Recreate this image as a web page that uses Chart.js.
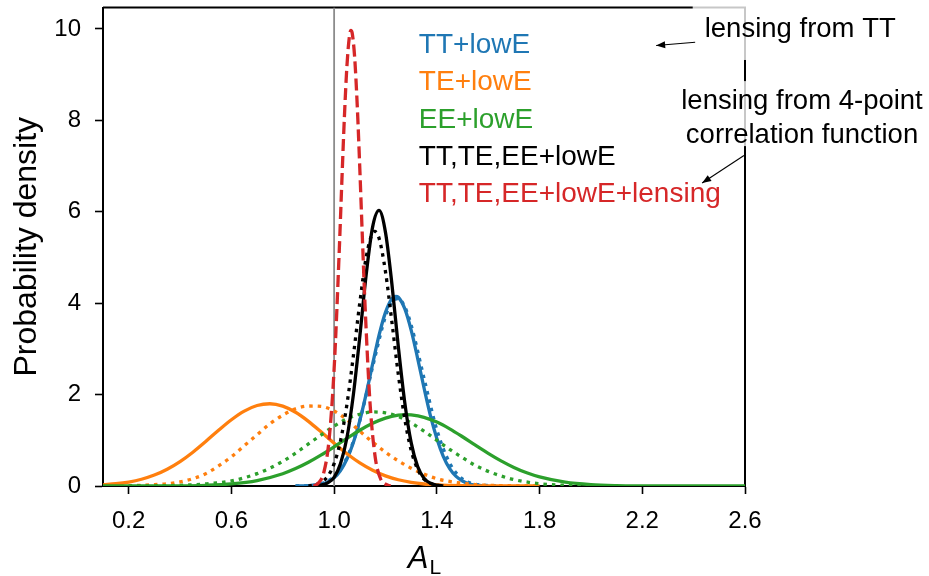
<!DOCTYPE html>
<html>
<head>
<meta charset="utf-8">
<script src="https://cdn.jsdelivr.net/npm/chart.js@4.4.0/dist/chart.umd.min.js"></script>
<style>
  html, body { margin: 0; padding: 0; background: #fff; }
</style>
</head>
<body>
<canvas id="myChart" width="929" height="576"></canvas>
<script>
const FONT = '"Liberation Sans", Arial, sans-serif';

// posterior densities of A_L
const redX = [0.92, 0.94, 0.96, 0.98, 1.00, 1.02, 1.03, 1.04, 1.05, 1.06, 1.065, 1.07, 1.08, 1.09, 1.10, 1.11, 1.12, 1.14, 1.16, 1.18, 1.20, 1.22];
const redY = [0.0, 0.07, 0.30, 0.99, 2.56, 5.15, 6.65, 8.07, 9.20, 9.86, 9.97, 9.92, 9.38, 8.33, 6.95, 5.44, 4.01, 1.80, 0.63, 0.17, 0.04, 0.0];

const blackX = [0.925, 0.95, 0.975, 1.0, 1.025, 1.05, 1.075, 1.1, 1.125, 1.15, 1.175, 1.2, 1.225, 1.25, 1.275, 1.3, 1.325, 1.35, 1.375, 1.4, 1.425];
const blackY = [0.0, 0.02, 0.07, 0.19, 0.49, 1.06, 2.00, 3.27, 4.63, 5.67, 6.03, 5.55, 4.42, 3.05, 1.83, 0.95, 0.43, 0.17, 0.06, 0.02, 0.0];

const blackDotX = [0.9, 0.925, 0.95, 0.975, 1.0, 1.025, 1.05, 1.075, 1.1, 1.125, 1.15, 1.158, 1.175, 1.2, 1.225, 1.25, 1.275, 1.3, 1.325, 1.35, 1.375, 1.4, 1.425];
const blackDotY = [0.0, 0.03, 0.08, 0.21, 0.49, 0.99, 1.79, 2.85, 4.01, 5.01, 5.54, 5.57, 5.42, 4.69, 3.59, 2.44, 1.47, 0.78, 0.37, 0.15, 0.06, 0.02, 0.0];

const blueX = [0.85, 0.9, 0.925, 0.95, 0.975, 1.0, 1.025, 1.05, 1.075, 1.1, 1.125, 1.15, 1.175, 1.2, 1.225, 1.24, 1.25, 1.275, 1.3, 1.325, 1.35, 1.375, 1.4, 1.425, 1.45, 1.475, 1.5, 1.525, 1.55, 1.575, 1.6];
const blueY = [0.0, 0.01, 0.02, 0.04, 0.09, 0.18, 0.34, 0.59, 0.95, 1.43, 2.02, 2.67, 3.30, 3.80, 4.10, 4.15, 4.13, 3.88, 3.41, 2.80, 2.15, 1.54, 1.04, 0.65, 0.38, 0.21, 0.11, 0.05, 0.02, 0.01, 0.0];

const blueDotX = [0.85, 0.9, 0.95, 1.0, 1.05, 1.1, 1.15, 1.2, 1.225, 1.25, 1.275, 1.3, 1.35, 1.4, 1.45, 1.5, 1.55, 1.6, 1.65];
const blueDotY = [0.0, 0.01, 0.05, 0.21, 0.62, 1.43, 2.61, 3.71, 4.02, 4.10, 3.92, 3.52, 2.36, 1.23, 0.50, 0.15, 0.04, 0.01, 0.0];

const orangeX = [0.1, 0.15, 0.2, 0.25, 0.3, 0.35, 0.4, 0.45, 0.5, 0.55, 0.6, 0.65, 0.7, 0.75, 0.8, 0.85, 0.9, 0.95, 1.0, 1.05, 1.1, 1.15, 1.2, 1.25, 1.3, 1.35, 1.4, 1.5, 1.6, 1.8];
const orangeY = [0.026, 0.049, 0.087, 0.148, 0.239, 0.367, 0.534, 0.740, 0.974, 1.219, 1.450, 1.639, 1.762, 1.800, 1.747, 1.613, 1.415, 1.180, 0.935, 0.705, 0.505, 0.344, 0.222, 0.137, 0.080, 0.044, 0.023, 0.006, 0.001, 0.0];

const orangeDotX = [0.1, 0.2, 0.25, 0.3, 0.35, 0.4, 0.45, 0.5, 0.55, 0.6, 0.65, 0.7, 0.75, 0.8, 0.85, 0.9, 0.95, 1.0, 1.05, 1.1, 1.15, 1.2, 1.25, 1.3, 1.35, 1.4, 1.45, 1.5, 1.55, 1.6, 1.7, 1.8];
const orangeDotY = [0.0, 0.007, 0.014, 0.03, 0.05, 0.09, 0.16, 0.27, 0.44, 0.64, 0.88, 1.12, 1.36, 1.55, 1.69, 1.75, 1.74, 1.64, 1.45, 1.20, 0.96, 0.74, 0.55, 0.39, 0.26, 0.16, 0.10, 0.06, 0.03, 0.015, 0.005, 0.0];

const greenX = [0.1, 0.4, 0.5, 0.6, 0.7, 0.8, 0.85, 0.9, 0.95, 1.0, 1.05, 1.1, 1.15, 1.2, 1.25, 1.28, 1.3, 1.35, 1.4, 1.45, 1.5, 1.55, 1.6, 1.65, 1.7, 1.75, 1.8, 1.9, 2.0, 2.1, 2.2, 2.3, 2.6];
const greenY = [0.0, 0.004, 0.015, 0.046, 0.12, 0.269, 0.381, 0.519, 0.680, 0.858, 1.042, 1.219, 1.371, 1.486, 1.549, 1.56, 1.555, 1.503, 1.398, 1.251, 1.078, 0.894, 0.714, 0.549, 0.406, 0.289, 0.198, 0.083, 0.030, 0.009, 0.002, 0.0, 0.0];

const greenDotX = [0.2, 0.3, 0.4, 0.5, 0.6, 0.65, 0.7, 0.75, 0.8, 0.85, 0.9, 0.95, 1.0, 1.05, 1.1, 1.15, 1.2, 1.25, 1.3, 1.35, 1.4, 1.45, 1.5, 1.55, 1.6, 1.65, 1.7, 1.8, 1.9, 2.0, 2.1];
const greenDotY = [0.0, 0.004, 0.015, 0.045, 0.11, 0.18, 0.27, 0.39, 0.54, 0.72, 0.92, 1.12, 1.31, 1.47, 1.57, 1.62, 1.60, 1.52, 1.38, 1.20, 1.00, 0.80, 0.62, 0.45, 0.32, 0.22, 0.14, 0.05, 0.016, 0.004, 0.0];

// A_L = 1 reference
const refX = [1.0, 1.0];
const refY = [0, 10.47];

const xTicks = [0.2, 0.6, 1.0, 1.4, 1.8, 2.2, 2.6];
const yTicks = [0, 2, 4, 6, 8, 10];

const legendLabels = ['TT+lowE', 'TE+lowE', 'EE+lowE', 'TT,TE,EE+lowE', 'TT,TE,EE+lowE+lensing'];
const legendColors = ['#1f77b4', '#ff7f0e', '#2ca02c', '#000000', '#d62728'];
const legendAnchor = [1.33, 9.64];

const notes = [
  { lines: ['lensing from TT'], at: [2.815, 10.0], padTop: 30, padBottom: 31, arrow: [[2.406, 9.71], [2.254, 9.64]] },
  { lines: ['lensing from 4-point', 'correlation function'], at: [2.822, 8.05], padTop: 20, padBottom: 11, arrow: [[2.596, 7.23], [2.433, 6.63]] },
];

const toPoints = (xs, ys) => xs.map((x, i) => ({ x, y: ys[i] }));

function curve(label, xs, ys, color, dash) {
  return {
    label,
    data: toPoints(xs, ys),
    borderColor: color,
    borderWidth: 3.3,
    borderDash: dash || [],
    borderCapStyle: 'butt',
    pointRadius: 0,
    fill: false,
    cubicInterpolationMode: 'monotone',
  };
}

const DOT = [3.5, 5];
const DASH = [12, 5];

const data = {
  datasets: [
    curve('TT,TE,EE+lowE+lensing', redX, redY, '#d62728', DASH),
    curve('TT,TE,EE+lowE (dotted)', blackDotX, blackDotY, '#000000', DOT),
    curve('TT,TE,EE+lowE', blackX, blackY, '#000000'),
    curve('EE+lowE (dotted)', greenDotX, greenDotY, '#2ca02c', DOT),
    curve('EE+lowE', greenX, greenY, '#2ca02c'),
    curve('TE+lowE (dotted)', orangeDotX, orangeDotY, '#ff7f0e', DOT),
    curve('TE+lowE', orangeX, orangeY, '#ff7f0e'),
    curve('TT+lowE (dotted)', blueDotX, blueDotY, '#1f77b4', DOT),
    curve('TT+lowE', blueX, blueY, '#1f77b4'),
    { label: 'ref', data: toPoints(refX, refY), borderColor: '#8c8c8c', borderWidth: 1.8, pointRadius: 0, fill: false },
  ]
};

function arrow(ctx, x0, y0, x1, y1) {
  const ang = Math.atan2(y1 - y0, x1 - x0);
  ctx.beginPath();
  ctx.moveTo(x0, y0);
  ctx.lineTo(x1, y1);
  ctx.stroke();
  const len = 9, half = 3.5;
  ctx.beginPath();
  ctx.moveTo(x1, y1);
  ctx.lineTo(x1 - len * Math.cos(ang) + half * Math.sin(ang), y1 - len * Math.sin(ang) - half * Math.cos(ang));
  ctx.lineTo(x1 - len * Math.cos(ang) - half * Math.sin(ang), y1 - len * Math.sin(ang) + half * Math.cos(ang));
  ctx.closePath();
  ctx.fill();
}

const decorations = {
  id: 'decorations',
  beforeDatasetsDraw(chart) {
    const { ctx, chartArea: a } = chart;
    ctx.save();
    ctx.strokeStyle = '#000';
    ctx.lineWidth = 2;
    ctx.beginPath();
    ctx.moveTo(a.left, a.top);
    ctx.lineTo(a.right, a.top);
    ctx.lineTo(a.right, a.bottom);
    ctx.stroke();
    ctx.restore();
  },
  afterDraw(chart) {
    const { ctx, chartArea: a, scales: { x, y } } = chart;
    ctx.save();

    // legend as coloured text
    ctx.font = `28px ${FONT}`;
    ctx.textBaseline = 'middle';
    ctx.textAlign = 'left';
    const lx = x.getPixelForValue(legendAnchor[0]);
    const ly = y.getPixelForValue(legendAnchor[1]);
    legendLabels.forEach((t, i) => {
      ctx.fillStyle = legendColors[i];
      ctx.fillText(t, lx, ly + i * 37.3);
    });

    // annotations with translucent boxes
    ctx.font = `27.5px ${FONT}`;
    ctx.textAlign = 'center';
    notes.forEach(n => {
      const cx = x.getPixelForValue(n.at[0]);
      const cy = y.getPixelForValue(n.at[1]);
      const lh = 34;
      const first = cy - (n.lines.length - 1) * lh / 2;
      const last = first + (n.lines.length - 1) * lh;
      const w = Math.max(...n.lines.map(t => ctx.measureText(t).width));
      ctx.fillStyle = 'rgba(255,255,255,0.78)';
      ctx.fillRect(cx - w / 2 - 12, first - n.padTop, w + 24, last - first + n.padTop + n.padBottom);
      ctx.fillStyle = '#000';
      n.lines.forEach((t, i) => ctx.fillText(t, cx, first + i * lh));
      ctx.strokeStyle = '#000';
      ctx.lineWidth = 1.1;
      arrow(ctx,
        x.getPixelForValue(n.arrow[0][0]), y.getPixelForValue(n.arrow[0][1]),
        x.getPixelForValue(n.arrow[1][0]), y.getPixelForValue(n.arrow[1][1]));
    });

    // axis titles
    ctx.fillStyle = '#000';
    ctx.textAlign = 'left';
    ctx.textBaseline = 'alphabetic';
    ctx.font = `italic 31px ${FONT}`;
    const wA = ctx.measureText('A').width;
    ctx.font = `21px ${FONT}`;
    const wL = ctx.measureText('L').width;
    const sx = (a.left + a.right) / 2 - (wA + wL) / 2;
    ctx.font = `italic 31px ${FONT}`;
    ctx.fillText('A', sx, 568);
    ctx.font = `21px ${FONT}`;
    ctx.fillText('L', sx + wA + 1, 574);

    ctx.translate(27, (a.top + a.bottom) / 2);
    ctx.rotate(-Math.PI / 2);
    ctx.textAlign = 'center';
    ctx.textBaseline = 'middle';
    ctx.font = `32px ${FONT}`;
    ctx.fillText('Probability density', 0, 0);
    ctx.restore();
  }
};

const config = {
  type: 'line',
  data: data,
  options: {
    responsive: false,
    animation: false,
    devicePixelRatio: 1,
    layout: { padding: { left: 0, right: 184, top: 7.5, bottom: 0 } },
    plugins: { legend: { display: false }, tooltip: { enabled: false } },
    scales: {
      x: {
        type: 'linear',
        min: 0.1,
        max: 2.6,
        afterBuildTicks: s => { s.ticks = xTicks.map(v => ({ value: v })); },
        afterFit: s => { s.height = 90; s.paddingLeft = 0; s.paddingRight = 0; },
        ticks: {
          callback: v => v.toFixed(1),
          font: { family: FONT, size: 24 },
          color: '#000',
          padding: 13,
          maxRotation: 0,
          autoSkip: false,
        },
        grid: { drawOnChartArea: false, tickLength: 8, tickWidth: 1.6, tickColor: '#000' },
        border: { color: '#000', width: 2 },
      },
      y: {
        min: 0,
        max: 10.47,
        afterBuildTicks: s => { s.ticks = yTicks.map(v => ({ value: v })); },
        afterFit: s => { s.width = 103; s.paddingTop = 0; s.paddingBottom = 0; },
        ticks: {
          callback: v => String(v),
          font: { family: FONT, size: 24 },
          color: '#000',
          padding: 14,
          autoSkip: false,
        },
        grid: { drawOnChartArea: false, tickLength: 8, tickWidth: 1.6, tickColor: '#000' },
        border: { color: '#000', width: 2 },
      },
    },
  },
  plugins: [decorations],
};

const myChart = new Chart(document.getElementById('myChart'), config);
</script>
</body>
</html>
